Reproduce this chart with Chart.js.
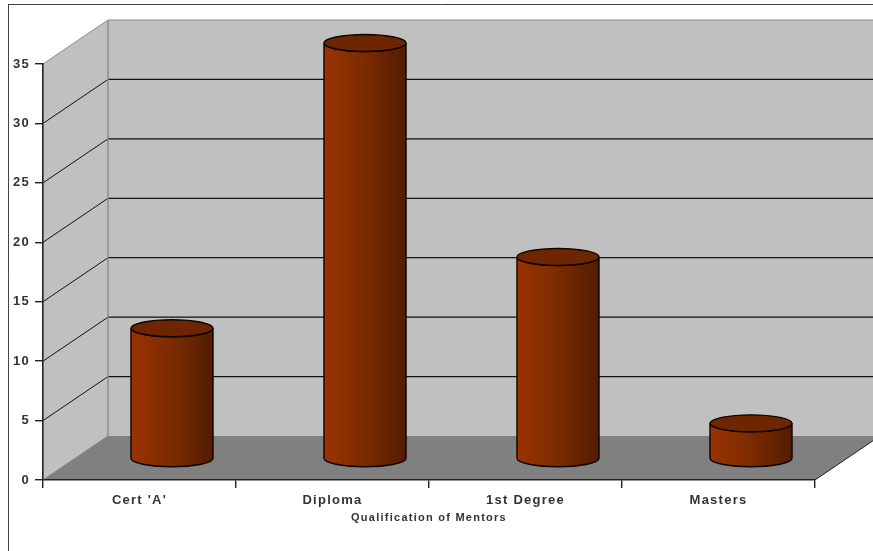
<!DOCTYPE html>
<html>
<head>
<meta charset="utf-8">
<style>
  html, body { margin: 0; padding: 0; background: #fff; overflow: hidden; }
  canvas { display: block; }
</style>
<script src="https://cdn.jsdelivr.net/npm/chart.js@4/dist/chart.umd.min.js"></script>
</head>
<body>
<canvas id="chart" width="873" height="551"></canvas>
<script>
const categories = ["Cert 'A'", "Diploma", "1st Degree", "Masters"];
const mentorCounts = [11, 35, 17, 3];
const axisTitle = "Qualification of Mentors";
const yTicks = [0, 5, 10, 15, 20, 25, 30, 35];

// Receding depth of the box, in pixels
const DEPTH_X = 65;
const DEPTH_Y = 44;
const CAP_RY = 8.5;

const WALL = "#c0c0c0";
const FLOOR = "#808080";
const WALL_EDGE = "#8a8a8a";
const GRID = "#111111";

function poly(ctx, pts, fill) {
  ctx.beginPath();
  pts.forEach((p, i) => i ? ctx.lineTo(p[0], p[1]) : ctx.moveTo(p[0], p[1]));
  ctx.closePath();
  ctx.fillStyle = fill;
  ctx.fill();
}

function line(ctx, x1, y1, x2, y2, color, width) {
  ctx.beginPath();
  ctx.moveTo(x1, y1);
  ctx.lineTo(x2, y2);
  ctx.strokeStyle = color;
  ctx.lineWidth = width;
  ctx.stroke();
}

// Page frame, side wall, back wall, floor and receding grid lines
const box3d = {
  id: "box3d",
  beforeDraw(chart) {
    const ctx = chart.ctx;
    const { left, right, top, bottom } = chart.chartArea;
    const y = chart.scales.y;
    ctx.save();
    ctx.letterSpacing = "0px";

    line(ctx, 8.5, 4.5, 8.5, 551, "#444", 1);
    line(ctx, 8, 4.5, 873, 4.5, "#444", 1);

    poly(ctx, [[left, bottom], [left + DEPTH_X, bottom - DEPTH_Y], [left + DEPTH_X, top - DEPTH_Y], [left, top]], WALL);
    poly(ctx, [[left + DEPTH_X, bottom - DEPTH_Y], [right + DEPTH_X, bottom - DEPTH_Y], [right + DEPTH_X, top - DEPTH_Y], [left + DEPTH_X, top - DEPTH_Y]], WALL);
    poly(ctx, [[left, bottom], [right, bottom], [right + DEPTH_X, bottom - DEPTH_Y], [left + DEPTH_X, bottom - DEPTH_Y]], FLOOR);

    yTicks.forEach(v => {
      const py = y.getPixelForValue(v);
      if (v === 0) return;
      const edge = v === yTicks[yTicks.length - 1];
      line(ctx, left, py, left + DEPTH_X, py - DEPTH_Y, edge ? WALL_EDGE : GRID, 1);
      line(ctx, left + DEPTH_X, py - DEPTH_Y, right + DEPTH_X, py - DEPTH_Y, edge ? WALL_EDGE : GRID, edge ? 1 : 1.3);
    });

    line(ctx, left + DEPTH_X, bottom - DEPTH_Y, left + DEPTH_X, top - DEPTH_Y, WALL_EDGE, 1.4);
    line(ctx, left, bottom, left + DEPTH_X, bottom - DEPTH_Y, FLOOR, 1);
    line(ctx, right, bottom, right + DEPTH_X, bottom - DEPTH_Y, "#222", 1);
    ctx.restore();
    ctx.letterSpacing = "1.25px";
  },
  // Each bar is shown as a cylinder standing halfway back in the box
  afterDatasetsDraw(chart) {
    const ctx = chart.ctx;
    const meta = chart.getDatasetMeta(0);
    ctx.save();
    meta.data.forEach(bar => {
      const cx = bar.x + DEPTH_X / 2;
      const rx = bar.width / 2;
      const topY = bar.y - DEPTH_Y / 2 + 1;
      const baseY = bar.base - DEPTH_Y / 2 + 1;

      const grad = ctx.createLinearGradient(cx - rx, 0, cx + rx, 0);
      grad.addColorStop(0, "#9a3300");
      grad.addColorStop(0.5, "#7c2b00");
      grad.addColorStop(1, "#521c00");

      ctx.beginPath();
      ctx.moveTo(cx - rx, topY);
      ctx.lineTo(cx - rx, baseY);
      ctx.ellipse(cx, baseY, rx, CAP_RY, 0, Math.PI, 0, true);
      ctx.lineTo(cx + rx, topY);
      ctx.ellipse(cx, topY, rx, CAP_RY, 0, 0, Math.PI, false);
      ctx.closePath();
      ctx.fillStyle = grad;
      ctx.fill();
      ctx.strokeStyle = "#0c0400";
      ctx.lineWidth = 1.4;
      ctx.stroke();

      ctx.beginPath();
      ctx.ellipse(cx, topY, rx, CAP_RY, 0, 0, Math.PI * 2);
      ctx.fillStyle = "#6e2600";
      ctx.fill();
      ctx.stroke();
    });
    ctx.restore();
  }
};

new Chart(document.getElementById("chart"), {
  type: "bar",
  data: {
    labels: categories,
    datasets: [{
      data: mentorCounts,
      backgroundColor: "transparent",
      borderWidth: 0,
      barPercentage: 0.425,
      categoryPercentage: 1
    }]
  },
  plugins: [box3d],
  options: {
    responsive: false,
    animation: false,
    events: [],
    layout: { padding: { left: 0, right: 58, top: 64, bottom: 26 } },
    plugins: { legend: { display: false }, title: { display: false }, tooltip: { enabled: false } },
    scales: {
      x: {
        afterFit(scale) { scale.height = 45; },
        grid: { drawOnChartArea: false, color: "#222", tickLength: 8, lineWidth: 1.4 },
        border: { color: "#222", width: 1.6 },
        ticks: {
          color: "#333",
          font: { family: "'Liberation Sans', Arial, sans-serif", size: 13, weight: "bold" },
          padding: 5,
          maxRotation: 0
        },
        title: {
          display: true,
          text: axisTitle,
          color: "#333",
          font: { family: "'Liberation Sans', Arial, sans-serif", size: 11, weight: "bold" },
          padding: { top: 4, bottom: 0 }
        }
      },
      y: {
        min: 0,
        max: 35,
        afterFit(scale) { scale.width = 43; },
        grid: { drawOnChartArea: false, color: "#222", tickLength: 8, lineWidth: 1.4 },
        border: { color: "#222", width: 1.6 },
        afterBuildTicks(scale) { scale.ticks = yTicks.map(value => ({ value })); },
        ticks: {
          color: "#333",
          font: { family: "'Liberation Sans', Arial, sans-serif", size: 13, weight: "bold" },
          padding: 5
        }
      }
    }
  }
});
</script>
</body>
</html>
